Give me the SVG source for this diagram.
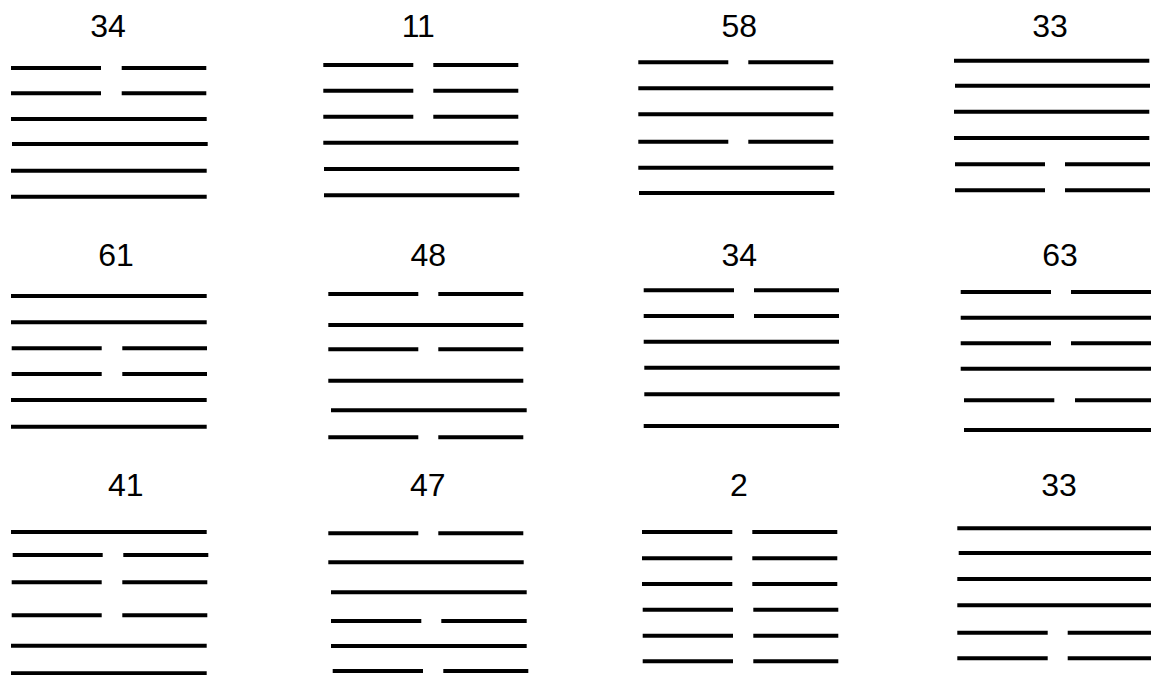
<svg xmlns="http://www.w3.org/2000/svg" width="1151" height="675" viewBox="0 0 1151 675">
<style>
.l{stroke:#000;stroke-width:4;stroke-linecap:butt}
.t{font-family:"Liberation Sans",Arial,sans-serif;font-size:32px;fill:#000;text-anchor:middle}
</style>
<rect width="1151" height="675" fill="#fff"/>
<g id="hex-34-a">
<text class="t" x="108" y="37">34</text>
<line class="l" x1="11" y1="68" x2="101" y2="68"/><line class="l" x1="121.7" y1="68" x2="206.3" y2="68"/>
<line class="l" x1="11" y1="93.3" x2="101" y2="93.3"/><line class="l" x1="121.7" y1="93.3" x2="206.3" y2="93.3"/>
<line class="l" x1="11" y1="119" x2="206.7" y2="119"/>
<line class="l" x1="12" y1="144" x2="207.7" y2="144"/>
<line class="l" x1="11" y1="170.7" x2="206.7" y2="170.7"/>
<line class="l" x1="11" y1="196.7" x2="206.7" y2="196.7"/>
</g>
<g id="hex-11">
<text class="t" x="418.3" y="36.7">11</text>
<line class="l" x1="323.3" y1="65" x2="413.3" y2="65"/><line class="l" x1="433.3" y1="65" x2="518.3" y2="65"/>
<line class="l" x1="323.3" y1="90.7" x2="413.3" y2="90.7"/><line class="l" x1="433.3" y1="90.7" x2="518.3" y2="90.7"/>
<line class="l" x1="323.3" y1="116.7" x2="413.3" y2="116.7"/><line class="l" x1="433.3" y1="116.7" x2="518.3" y2="116.7"/>
<line class="l" x1="323.3" y1="142.7" x2="518.3" y2="142.7"/>
<line class="l" x1="324" y1="169" x2="519.3" y2="169"/>
<line class="l" x1="324" y1="195.3" x2="519.3" y2="195.3"/>
</g>
<g id="hex-58">
<text class="t" x="739.3" y="36.7">58</text>
<line class="l" x1="638.3" y1="62.3" x2="728.3" y2="62.3"/><line class="l" x1="748.3" y1="62.3" x2="833.3" y2="62.3"/>
<line class="l" x1="638.3" y1="88.3" x2="833.3" y2="88.3"/>
<line class="l" x1="638.3" y1="114.3" x2="833.3" y2="114.3"/>
<line class="l" x1="638.3" y1="141.7" x2="728.3" y2="141.7"/><line class="l" x1="748.3" y1="141.7" x2="833.3" y2="141.7"/>
<line class="l" x1="638.3" y1="167.7" x2="833.3" y2="167.7"/>
<line class="l" x1="639" y1="193" x2="834.3" y2="193"/>
</g>
<g id="hex-33-a">
<text class="t" x="1050" y="36.7">33</text>
<line class="l" x1="954" y1="60.7" x2="1149.3" y2="60.7"/>
<line class="l" x1="955" y1="85.7" x2="1150" y2="85.7"/>
<line class="l" x1="954" y1="111.7" x2="1149.3" y2="111.7"/>
<line class="l" x1="954" y1="138" x2="1149.3" y2="138"/>
<line class="l" x1="955" y1="164.3" x2="1045" y2="164.3"/><line class="l" x1="1065" y1="164.3" x2="1150" y2="164.3"/>
<line class="l" x1="955" y1="190.3" x2="1045" y2="190.3"/><line class="l" x1="1065" y1="190.3" x2="1150" y2="190.3"/>
</g>
<g id="hex-61">
<text class="t" x="116" y="266">61</text>
<line class="l" x1="11" y1="296" x2="206.7" y2="296"/>
<line class="l" x1="11" y1="322.3" x2="206.7" y2="322.3"/>
<line class="l" x1="11.7" y1="348.3" x2="101.7" y2="348.3"/><line class="l" x1="122.3" y1="348.3" x2="207" y2="348.3"/>
<line class="l" x1="11.7" y1="374" x2="101.7" y2="374"/><line class="l" x1="122.3" y1="374" x2="207" y2="374"/>
<line class="l" x1="11" y1="400" x2="206.7" y2="400"/>
<line class="l" x1="11" y1="426.7" x2="206.7" y2="426.7"/>
</g>
<g id="hex-48">
<text class="t" x="428.3" y="266">48</text>
<line class="l" x1="328.3" y1="294" x2="418.3" y2="294"/><line class="l" x1="438.3" y1="294" x2="523.3" y2="294"/>
<line class="l" x1="328.3" y1="325" x2="523.3" y2="325"/>
<line class="l" x1="328.3" y1="349.3" x2="418.3" y2="349.3"/><line class="l" x1="438.3" y1="349.3" x2="523.3" y2="349.3"/>
<line class="l" x1="328.3" y1="380.7" x2="523.3" y2="380.7"/>
<line class="l" x1="331" y1="410.3" x2="526.7" y2="410.3"/>
<line class="l" x1="328.3" y1="437.3" x2="418.3" y2="437.3"/><line class="l" x1="438.3" y1="437.3" x2="523.3" y2="437.3"/>
</g>
<g id="hex-34-b">
<text class="t" x="739.3" y="266">34</text>
<line class="l" x1="643.7" y1="290.3" x2="734" y2="290.3"/><line class="l" x1="754" y1="290.3" x2="839" y2="290.3"/>
<line class="l" x1="643.7" y1="316" x2="734" y2="316"/><line class="l" x1="754" y1="316" x2="839" y2="316"/>
<line class="l" x1="643.7" y1="341.7" x2="839" y2="341.7"/>
<line class="l" x1="644.3" y1="367.7" x2="839.7" y2="367.7"/>
<line class="l" x1="644.3" y1="394.3" x2="839.7" y2="394.3"/>
<line class="l" x1="643.7" y1="426" x2="839" y2="426"/>
</g>
<g id="hex-63">
<text class="t" x="1060" y="266">63</text>
<line class="l" x1="960.7" y1="292" x2="1051" y2="292"/><line class="l" x1="1071" y1="292" x2="1151" y2="292"/>
<line class="l" x1="960.7" y1="317.7" x2="1151" y2="317.7"/>
<line class="l" x1="960.7" y1="343.3" x2="1051" y2="343.3"/><line class="l" x1="1071" y1="343.3" x2="1151" y2="343.3"/>
<line class="l" x1="960.7" y1="368.7" x2="1151" y2="368.7"/>
<line class="l" x1="964" y1="400.3" x2="1054.3" y2="400.3"/><line class="l" x1="1075" y1="400.3" x2="1151" y2="400.3"/>
<line class="l" x1="964" y1="430" x2="1151" y2="430"/>
</g>
<g id="hex-41">
<text class="t" x="125.7" y="495.7">41</text>
<line class="l" x1="11" y1="532" x2="206.7" y2="532"/>
<line class="l" x1="12.7" y1="555" x2="102.7" y2="555"/><line class="l" x1="123.3" y1="555" x2="208.3" y2="555"/>
<line class="l" x1="11.7" y1="582.3" x2="101.7" y2="582.3"/><line class="l" x1="122.3" y1="582.3" x2="207.3" y2="582.3"/>
<line class="l" x1="11.7" y1="615.3" x2="101.7" y2="615.3"/><line class="l" x1="122.3" y1="615.3" x2="207.3" y2="615.3"/>
<line class="l" x1="11" y1="645.7" x2="206.7" y2="645.7"/>
<line class="l" x1="11" y1="673.3" x2="206.7" y2="673.3"/>
</g>
<g id="hex-47">
<text class="t" x="427.7" y="495.7">47</text>
<line class="l" x1="328.3" y1="533.3" x2="418.3" y2="533.3"/><line class="l" x1="438.3" y1="533.3" x2="523.3" y2="533.3"/>
<line class="l" x1="328.3" y1="562.3" x2="523.7" y2="562.3"/>
<line class="l" x1="331" y1="592.3" x2="526.7" y2="592.3"/>
<line class="l" x1="331" y1="621" x2="421.3" y2="621"/><line class="l" x1="441.3" y1="621" x2="526.7" y2="621"/>
<line class="l" x1="331" y1="646" x2="526.7" y2="646"/>
<line class="l" x1="332.7" y1="671" x2="423" y2="671"/><line class="l" x1="443.3" y1="671" x2="528.3" y2="671"/>
</g>
<g id="hex-2">
<text class="t" x="739" y="495.7">2</text>
<line class="l" x1="642" y1="532" x2="732.3" y2="532"/><line class="l" x1="752.3" y1="532" x2="837.3" y2="532"/>
<line class="l" x1="642" y1="558.3" x2="732.3" y2="558.3"/><line class="l" x1="752.3" y1="558.3" x2="837.3" y2="558.3"/>
<line class="l" x1="642" y1="584" x2="732.3" y2="584"/><line class="l" x1="752.3" y1="584" x2="837.3" y2="584"/>
<line class="l" x1="642.7" y1="609.7" x2="733" y2="609.7"/><line class="l" x1="753.3" y1="609.7" x2="838.3" y2="609.7"/>
<line class="l" x1="642.7" y1="635.7" x2="733" y2="635.7"/><line class="l" x1="753.3" y1="635.7" x2="838.3" y2="635.7"/>
<line class="l" x1="642.7" y1="661.3" x2="733" y2="661.3"/><line class="l" x1="753.3" y1="661.3" x2="838.3" y2="661.3"/>
</g>
<g id="hex-33-b">
<text class="t" x="1059" y="495.7">33</text>
<line class="l" x1="957.3" y1="528.3" x2="1151" y2="528.3"/>
<line class="l" x1="958.7" y1="553" x2="1151" y2="553"/>
<line class="l" x1="957.3" y1="579" x2="1151" y2="579"/>
<line class="l" x1="957.3" y1="605.3" x2="1151" y2="605.3"/>
<line class="l" x1="957.3" y1="632.7" x2="1047.7" y2="632.7"/><line class="l" x1="1067.7" y1="632.7" x2="1151" y2="632.7"/>
<line class="l" x1="957.3" y1="658.3" x2="1047.7" y2="658.3"/><line class="l" x1="1067.7" y1="658.3" x2="1151" y2="658.3"/>
</g>
</svg>
